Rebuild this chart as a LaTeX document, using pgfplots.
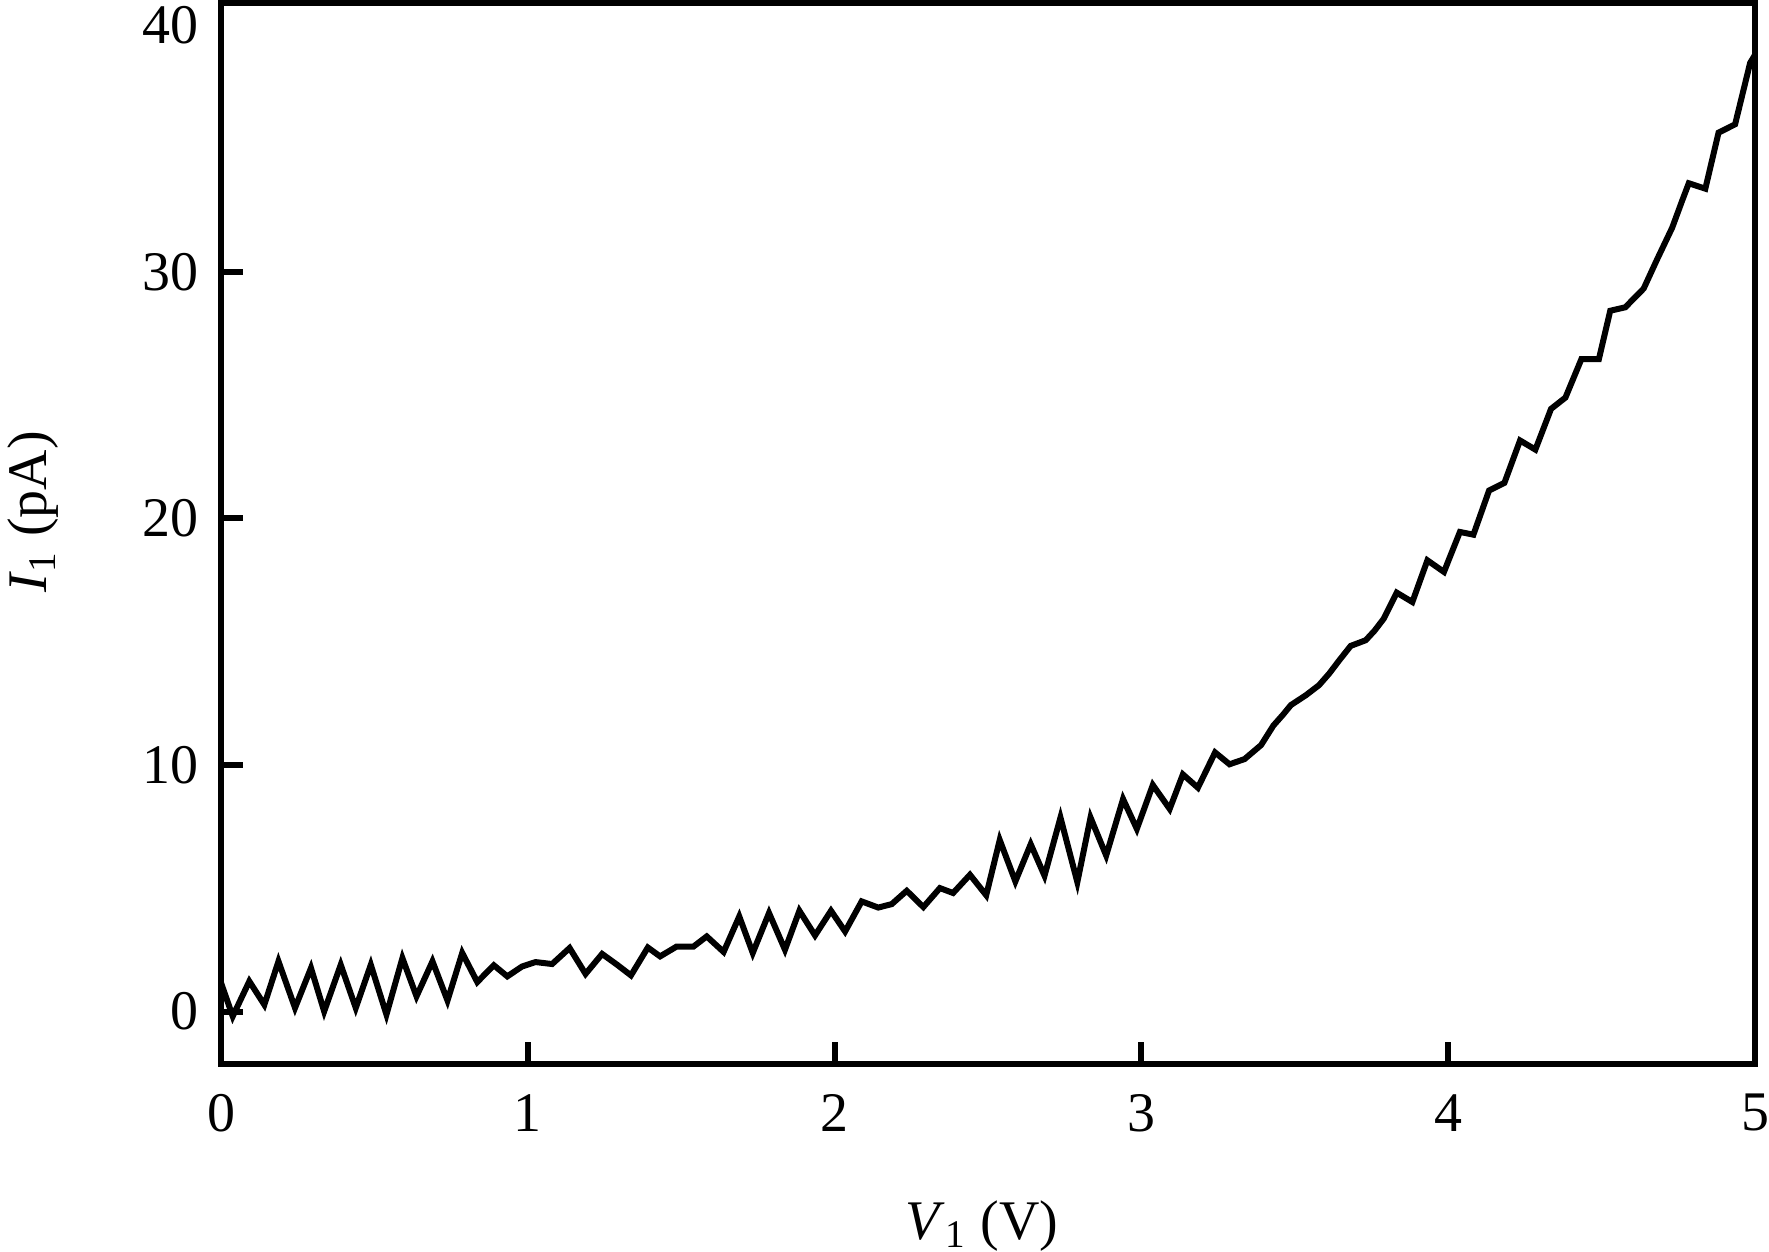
\documentclass[border=0pt]{standalone}
\usepackage{fontspec}
\setmainfont{Liberation Serif}
\usepackage{pgfplots}
\pgfplotsset{compat=1.18}
\begin{document}
\fontsize{14pt}{16pt}\selectfont
\begin{tikzpicture}
\begin{axis}[
  scale only axis,
  width=384.15pt, height=265.6pt,
  xmin=0, xmax=5, ymin=-2.105, ymax=40.9,
  axis line style={line width=1.5pt},
  every tick/.style={line width=1.5pt, black},
  major tick length=5.5pt,
  tick align=inside,
  xtick={0,1,2,3,4,5},
  ytick={0,10,20,30},
  extra y ticks={40},
  extra y tick style={major tick length=0pt},
  xtick pos=bottom, ytick pos=left,
  /pgf/number format/assume math mode=true,
  ticklabel style={font=\fontsize{14pt}{16pt}\selectfont},
  xticklabel style={inner sep=0pt, anchor=north, yshift=-7.5pt},
  yticklabel style={inner sep=0pt, anchor=east, xshift=-5.5pt},
  xlabel={\textit{V}\textsubscript{1} (V)},
  ylabel={\textit{I}\textsubscript{1} (pA)},
  label style={font=\fontsize{14pt}{16pt}\selectfont},
  xlabel style={inner sep=0pt, at={(axis description cs:0.496,-0.153)}, anchor=center},
  ylabel style={inner sep=2pt, at={(axis description cs:-0.1224,0.52)}, anchor=center},
]
\addplot[black, line width=1.5pt, mark=none] table {
0.000 1.16
0.038 -0.19
0.092 1.23
0.141 0.28
0.187 2.04
0.241 0.15
0.293 1.77
0.336 0.01
0.390 1.90
0.439 0.15
0.488 1.90
0.539 -0.12
0.591 2.17
0.637 0.62
0.689 2.04
0.738 0.45
0.786 2.38
0.835 1.20
0.889 1.88
0.933 1.43
0.981 1.83
1.025 2.01
1.079 1.93
1.136 2.58
1.188 1.53
1.242 2.34
1.291 1.90
1.336 1.47
1.391 2.60
1.431 2.24
1.485 2.64
1.540 2.64
1.583 3.05
1.638 2.42
1.689 3.86
1.733 2.38
1.786 4.00
1.838 2.51
1.885 4.09
1.936 3.09
1.988 4.09
2.034 3.25
2.088 4.47
2.142 4.22
2.186 4.36
2.235 4.90
2.289 4.24
2.343 5.01
2.386 4.81
2.441 5.55
2.494 4.72
2.538 6.96
2.589 5.28
2.639 6.79
2.684 5.51
2.736 7.87
2.791 5.25
2.834 7.87
2.885 6.33
2.940 8.62
2.985 7.41
3.037 9.19
3.092 8.22
3.135 9.62
3.184 9.08
3.240 10.51
3.287 10.03
3.336 10.24
3.390 10.81
3.430 11.60
3.462 12.05
3.487 12.43
3.536 12.83
3.579 13.24
3.612 13.71
3.645 14.25
3.682 14.83
3.731 15.06
3.760 15.45
3.790 15.94
3.832 16.99
3.883 16.61
3.932 18.30
3.986 17.83
4.038 19.45
4.082 19.34
4.133 21.13
4.183 21.44
4.234 23.16
4.284 22.79
4.335 24.44
4.382 24.90
4.434 26.46
4.491 26.46
4.528 28.42
4.577 28.56
4.637 29.32
4.681 30.51
4.730 31.79
4.762 32.87
4.784 33.59
4.838 33.37
4.881 35.64
4.935 35.98
4.984 38.47
5.000 38.80
};
\end{axis}
\end{tikzpicture}
\end{document}
